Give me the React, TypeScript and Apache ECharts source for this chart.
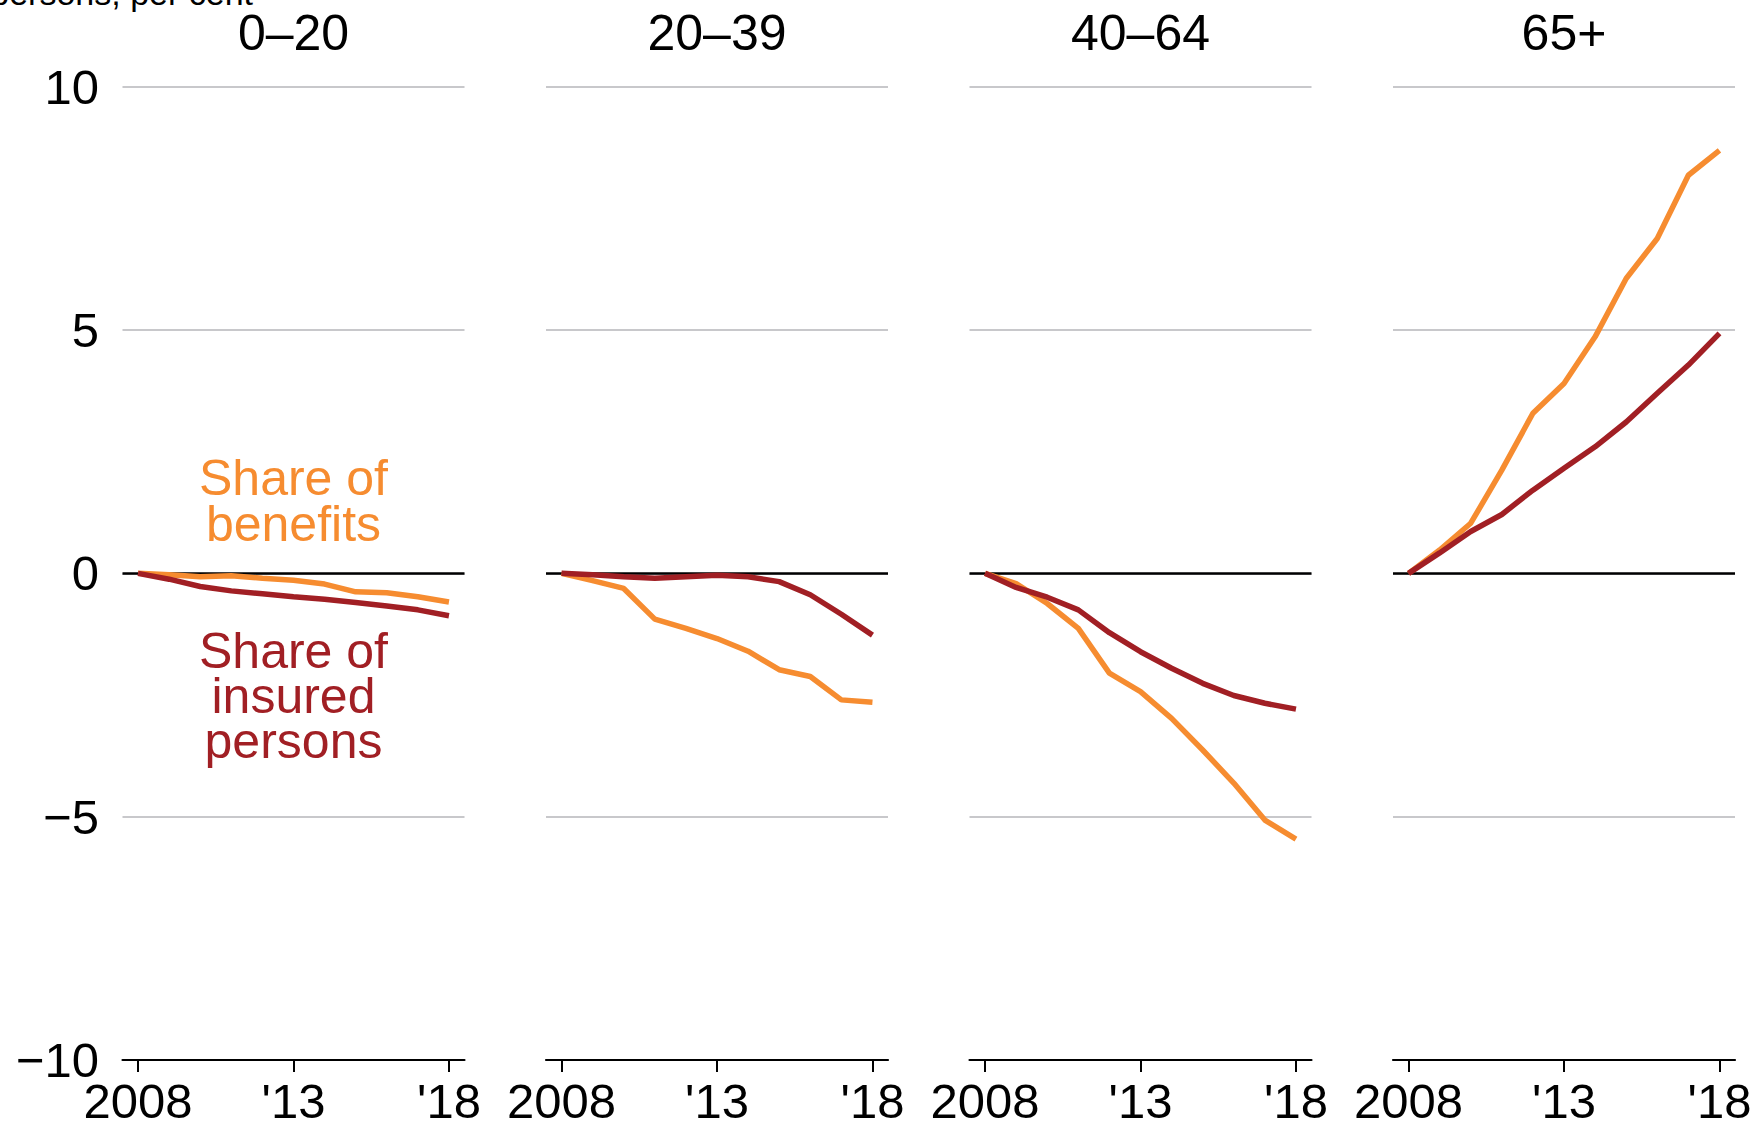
import React, { useEffect, useRef } from 'react';
import * as echarts from 'echarts';

// ---- Data ----
const years = ['2008', '2009', '2010', '2011', '2012', '2013', '2014', '2015', '2016', '2017', '2018'];
const panelTitles = ['0–20', '20–39', '40–64', '65+'];

const benefits0to20 = [0, -0.03, -0.07, -0.05, -0.1, -0.14, -0.22, -0.38, -0.4, -0.48, -0.59];
const insured0to20 = [0, -0.12, -0.27, -0.36, -0.42, -0.48, -0.53, -0.6, -0.67, -0.75, -0.87];

const benefits20to39 = [0, -0.15, -0.31, -0.94, -1.13, -1.34, -1.6, -1.98, -2.12, -2.6, -2.65];
const insured20to39 = [0, -0.03, -0.07, -0.1, -0.07, -0.04, -0.07, -0.17, -0.44, -0.84, -1.27];

const benefits40to64 = [0, -0.21, -0.62, -1.13, -2.05, -2.43, -2.98, -3.63, -4.31, -5.07, -5.46];
const insured40to64 = [0, -0.29, -0.49, -0.75, -1.22, -1.61, -1.95, -2.26, -2.51, -2.67, -2.79];

const benefits65plus = [0, 0.48, 1.03, 2.12, 3.29, 3.9, 4.86, 6.06, 6.88, 8.18, 8.69];
const insured65plus = [0, 0.42, 0.86, 1.21, 1.71, 2.16, 2.6, 3.11, 3.7, 4.28, 4.93];

const yMin = -10;
const yMax = 10;
const yInterval = 5;

const benefitsLabel = 'Share of\nbenefits';
const insuredLabel = 'Share of\ninsured\npersons';
const unitText = 'persons, per cent';

const benefitsByPanel = [benefits0to20, benefits20to39, benefits40to64, benefits65plus];
const insuredByPanel = [insured0to20, insured20to39, insured40to64, insured65plus];

// ---- Styles ----
const ORANGE = '#F68C30';
const RED = '#A11F24';
const GRID_GREY = '#c8c8cb';
const FONT = "'Liberation Sans', Arial, Helvetica, sans-serif";

export default function App() {
  const ref = useRef<HTMLDivElement>(null);

  useEffect(() => {
    if (!ref.current) return;
    const chart = echarts.init(ref.current, null, { renderer: 'svg' });

    const W = 342;
    const lefts = [0, 1, 2, 3].map((i) => 122.5 + 423.5 * i);
    const top = 86.7;
    const height = 973.3;

    const grid = lefts.map((l) => ({
      left: l,
      top,
      width: W,
      height,
      containLabel: false,
      outerBoundsMode: 'none',
    }));

    const xAxis = lefts.map((_, i) => ({
      type: 'category',
      gridIndex: i,
      data: years,
      boundaryGap: true,
      axisLine: { show: true, onZero: false, lineStyle: { color: '#000', width: 2.2 } },
      axisTick: {
        show: true,
        alignWithLabel: true,
        interval: (idx: number) => idx % 5 === 0,
        length: 12,
        lineStyle: { color: '#000', width: 2 },
      },
      axisLabel: {
        interval: (idx: number) => idx % 5 === 0,
        formatter: (v: string) => (v === '2008' ? v : "'" + v.slice(2)),
        fontSize: 49,
        color: '#000',
        fontFamily: FONT,
        margin: 16,
      },
      splitLine: { show: false },
    }));

    const yAxis = lefts.map((_, i) => ({
      type: 'value',
      gridIndex: i,
      min: yMin,
      max: yMax,
      interval: yInterval,
      axisLine: { show: false },
      axisTick: { show: false },
      axisLabel: {
        show: i === 0,
        fontSize: 49,
        color: '#000',
        fontFamily: FONT,
        margin: 23.5,
        formatter: (v: number) => (v < 0 ? '\u2212' + Math.abs(v) : String(v)),
      },
      splitLine: {
        show: true,
        showMinLine: false,
        lineStyle: { color: GRID_GREY, width: 2 },
      },
    }));

    const series: any[] = [];
    lefts.forEach((_, i) => {
      series.push({
        type: 'line',
        xAxisIndex: i,
        yAxisIndex: i,
        data: years.map(() => null),
        silent: true,
        z: 1,
        symbol: 'none',
        markLine: {
          silent: true,
          z: 1,
          symbol: ['none', 'none'],
          label: { show: false },
          lineStyle: { color: '#000', width: 2.5, type: 'solid' },
          emphasis: { disabled: true },
          data: [{ yAxis: 0 }],
        },
      });
      series.push({
        type: 'line',
        name: 'Share of benefits',
        xAxisIndex: i,
        yAxisIndex: i,
        data: benefitsByPanel[i],
        symbol: 'none',
        showSymbol: false,
        silent: true,
        z: 2,
        lineStyle: { color: ORANGE, width: 5.5 },
        itemStyle: { color: ORANGE },
      });
      series.push({
        type: 'line',
        name: 'Share of insured persons',
        xAxisIndex: i,
        yAxisIndex: i,
        data: insuredByPanel[i],
        symbol: 'none',
        showSymbol: false,
        silent: true,
        z: 3,
        lineStyle: { color: RED, width: 5.5 },
        itemStyle: { color: RED },
      });
    });

    const textEl = (
      text: string,
      x: number,
      y: number,
      size: number,
      fill: string,
      align = 'center',
      lineHeight?: number
    ) => ({
      type: 'text',
      x,
      y,
      silent: true,
      style: {
        text,
        fontSize: size,
        fontFamily: FONT,
        fill,
        align,
        textAlign: align,
        verticalAlign: 'middle',
        textVerticalAlign: 'middle',
        ...(lineHeight ? { lineHeight } : {}),
      },
    });

    const c0 = lefts[0] + W / 2;
    const graphic: any[] = [
      ...panelTitles.map((t, i) => textEl(t, lefts[i] + W / 2, 33, 50, '#000')),
      textEl(benefitsLabel, c0, 500.7, 50, ORANGE, 'center', 46),
      textEl(insuredLabel, c0, 696, 50, RED, 'center', 45),
      textEl(unitText, 253, -6.8, 34, '#000', 'right'),
    ];

    chart.setOption({
      animation: false,
      backgroundColor: '#fff',
      grid,
      xAxis,
      yAxis,
      series,
      graphic,
    });

    return () => {
      chart.dispose();
    };
  }, []);

  return (
    <div
      ref={ref}
      style={{ position: 'absolute', left: 0, top: 0, width: 1764, height: 1126, background: '#fff' }}
    />
  );
}
